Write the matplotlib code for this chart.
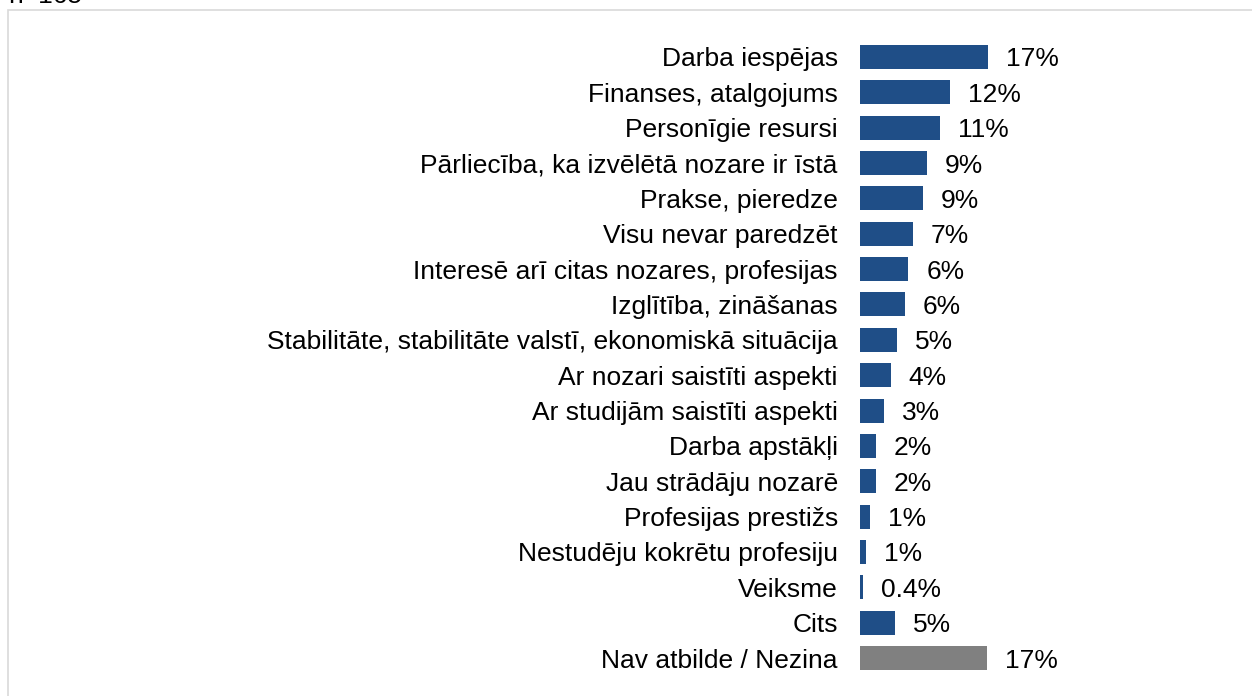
import matplotlib.pyplot as plt
from matplotlib.patches import Rectangle

categories = [
    "Darba iespējas",
    "Finanses, atalgojums",
    "Personīgie resursi",
    "Pārliecība, ka izvēlētā nozare ir īstā",
    "Prakse, pieredze",
    "Visu nevar paredzēt",
    "Interesē arī citas nozares, profesijas",
    "Izglītība, zināšanas",
    "Stabilitāte, stabilitāte valstī, ekonomiskā situācija",
    "Ar nozari saistīti aspekti",
    "Ar studijām saistīti aspekti",
    "Darba apstākļi",
    "Jau strādāju nozarē",
    "Profesijas prestižs",
    "Nestudēju kokrētu profesiju",
    "Veiksme",
    "Cits",
    "Nav atbilde / Nezina",
]
values = [17.0, 12.0, 10.6, 8.9, 8.4, 7.0, 6.4, 6.0, 4.9, 4.1, 3.2, 2.1, 2.1, 1.3, 0.8, 0.4, 4.6, 16.9]
value_labels = ["17%", "12%", "11%", "9%", "9%", "7%", "6%", "6%", "5%", "4%",
                "3%", "2%", "2%", "1%", "1%", "0.4%", "5%", "17%"]

plt.rcParams['font.family'] = ['Liberation Sans', 'DejaVu Sans']

W, H = 1252, 696
fig = plt.figure(figsize=(W / 100, H / 100), dpi=100)

# light frame around the chart area
fig.patches.append(Rectangle((8 / W, -0.05), 1.1, 1 - 10 / H + 0.05,
                             transform=fig.transFigure, fill=False,
                             edgecolor='#d9d9d9', linewidth=1.2))
# sample size note, only its lower edge is visible above the frame
fig.text(8 / W, 1 - 3 / H, "n=165", fontsize=19, va='baseline', ha='left')

ax = fig.add_axes([860 / W, 1 - 675.7 / H, 376 / W, (675.7 - 39.3) / H])
colors = ['#1f4e87'] * (len(values) - 1) + ['#808080']
y = list(range(len(values)))
ax.barh(y, values, height=0.68, color=colors)
ax.set_xlim(0, 50)
ax.set_ylim(len(values) - 0.5, -0.5)
ax.set_yticks(y)
ax.set_yticklabels(categories, fontsize=19)
ax.tick_params(axis='y', length=0, pad=16)
ax.set_xticks([])
for s in ax.spines.values():
    s.set_visible(False)

for yi, v, lab in zip(y, values, value_labels):
    ax.annotate(lab, (v, yi), xytext=(18, 0), textcoords='offset pixels',
                va='center_baseline', ha='left', fontsize=19)

fig.savefig('out.png', dpi=100)
